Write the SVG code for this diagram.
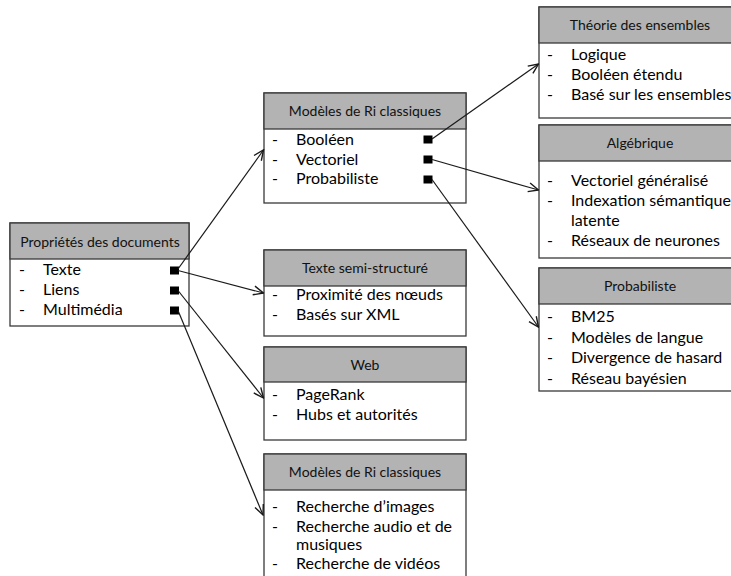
<svg xmlns="http://www.w3.org/2000/svg" width="731" height="576" viewBox="0 0 731 576">
<style>
.box{fill:#ffffff;stroke:#3a3a3a;stroke-width:1.3}
.hdr{fill:#b3b3b3;stroke:#3a3a3a;stroke-width:1.3}
.ht{font-family:Lato,"Liberation Sans",sans-serif;font-size:14px;fill:#111;text-anchor:middle}
.it{font-family:Lato,"Liberation Sans",sans-serif;font-size:16px;fill:#000}
.sq{fill:#000}
.con{stroke:#1a1a1a;stroke-width:1.2;fill:none;marker-end:url(#arr)}
</style>
<defs>
<marker id="arr" viewBox="0 0 12 12" refX="11" refY="6" markerWidth="12" markerHeight="12" markerUnits="userSpaceOnUse" orient="auto">
<path d="M1,1.5 L11,6 L1,10.5" fill="none" stroke="#1a1a1a" stroke-width="1.4"/>
</marker>
</defs>
<rect width="731" height="576" fill="#ffffff"/>

<g id="proprietes">
<rect class="box" x="10" y="223" width="179" height="103"/>
<rect class="hdr" x="10" y="223" width="179" height="36"/>
<text class="ht" x="100" y="247">Propriétés des documents</text>
<text class="it" x="19" y="275">-</text><text class="it" x="43" y="275">Texte</text>
<text class="it" x="19" y="295">-</text><text class="it" x="43" y="295">Liens</text>
<text class="it" x="19" y="315">-</text><text class="it" x="43" y="315">Multimédia</text>
<rect class="sq" x="170" y="266.5" width="9" height="8"/>
<rect class="sq" x="170" y="286.5" width="9" height="8"/>
<rect class="sq" x="170" y="306.5" width="9" height="8"/>
</g>

<g id="modeles1">
<rect class="box" x="264" y="93" width="202" height="110"/>
<rect class="hdr" x="264" y="93" width="202" height="36"/>
<text class="ht" x="365" y="116">Modèles de Ri classiques</text>
<text class="it" x="272" y="145">-</text><text class="it" x="296" y="145">Booléen</text>
<text class="it" x="272" y="164.5">-</text><text class="it" x="296" y="164.5">Vectoriel</text>
<text class="it" x="272" y="184">-</text><text class="it" x="296" y="184">Probabiliste</text>
<rect class="sq" x="423.5" y="135.5" width="9" height="8"/>
<rect class="sq" x="423.5" y="155.5" width="9" height="8"/>
<rect class="sq" x="423.5" y="175.5" width="9" height="8"/>
</g>

<g id="semi">
<rect class="box" x="264" y="250" width="202" height="86"/>
<rect class="hdr" x="264" y="250" width="202" height="36"/>
<text class="ht" x="365" y="273">Texte semi-structuré</text>
<text class="it" x="272" y="300">-</text><text class="it" x="296" y="300">Proximité des nœuds</text>
<text class="it" x="272" y="320">-</text><text class="it" x="296" y="320">Basés sur XML</text>
</g>

<g id="web">
<rect class="box" x="264" y="347" width="202" height="93"/>
<rect class="hdr" x="264" y="347" width="202" height="35"/>
<text class="ht" x="365" y="370">Web</text>
<text class="it" x="272" y="400">-</text><text class="it" x="296" y="400">PageRank</text>
<text class="it" x="272" y="420">-</text><text class="it" x="296" y="420">Hubs et autorités</text>
</g>

<g id="modeles2">
<rect class="box" x="264" y="454" width="202" height="130"/>
<rect class="hdr" x="264" y="454" width="202" height="36"/>
<text class="ht" x="365" y="477">Modèles de Ri classiques</text>
<text class="it" x="272" y="512">-</text><text class="it" x="296" y="512">Recherche d’images</text>
<text class="it" x="272" y="531.5">-</text><text class="it" x="296" y="531.5">Recherche audio et de</text>
<text class="it" x="296" y="550">musiques</text>
<text class="it" x="272" y="569">-</text><text class="it" x="296" y="569">Recherche de vidéos</text>
</g>

<g id="theorie">
<rect class="box" x="539" y="7" width="202" height="111"/>
<rect class="hdr" x="539" y="7" width="202" height="36"/>
<text class="ht" x="640" y="30">Théorie des ensembles</text>
<text class="it" x="547" y="60">-</text><text class="it" x="571" y="60">Logique</text>
<text class="it" x="547" y="80">-</text><text class="it" x="571" y="80">Booléen étendu</text>
<text class="it" x="547" y="100">-</text><text class="it" x="571" y="100">Basé sur les ensembles</text>
</g>

<g id="algebrique">
<rect class="box" x="539" y="125" width="202" height="133"/>
<rect class="hdr" x="539" y="125" width="202" height="36"/>
<text class="ht" x="640" y="148">Algébrique</text>
<text class="it" x="547" y="186">-</text><text class="it" x="571" y="186">Vectoriel généralisé</text>
<text class="it" x="547" y="206">-</text><text class="it" x="571" y="206">Indexation sémantique</text>
<text class="it" x="571" y="226">latente</text>
<text class="it" x="547" y="246">-</text><text class="it" x="571" y="246">Réseaux de neurones</text>
</g>

<g id="probabiliste">
<rect class="box" x="539" y="268" width="202" height="123"/>
<rect class="hdr" x="539" y="268" width="202" height="36"/>
<text class="ht" x="640" y="291">Probabiliste</text>
<text class="it" x="547" y="322">-</text><text class="it" x="571" y="322">BM25</text>
<text class="it" x="547" y="342.5">-</text><text class="it" x="571" y="342.5">Modèles de langue</text>
<text class="it" x="547" y="363">-</text><text class="it" x="571" y="363">Divergence de hasard</text>
<text class="it" x="547" y="383.5">-</text><text class="it" x="571" y="383.5">Réseau bayésien</text>
</g>

<g id="connectors">
<line class="con" x1="178" y1="269" x2="263.5" y2="150"/>
<line class="con" x1="178" y1="270.5" x2="263.5" y2="293"/>
<line class="con" x1="178" y1="290.5" x2="263.5" y2="398"/>
<line class="con" x1="178" y1="310.5" x2="263" y2="515"/>
<line class="con" x1="432" y1="139" x2="538.5" y2="64"/>
<line class="con" x1="432" y1="159.5" x2="538.5" y2="190"/>
<line class="con" x1="432" y1="179.5" x2="538.5" y2="327"/>
</g>
</svg>
